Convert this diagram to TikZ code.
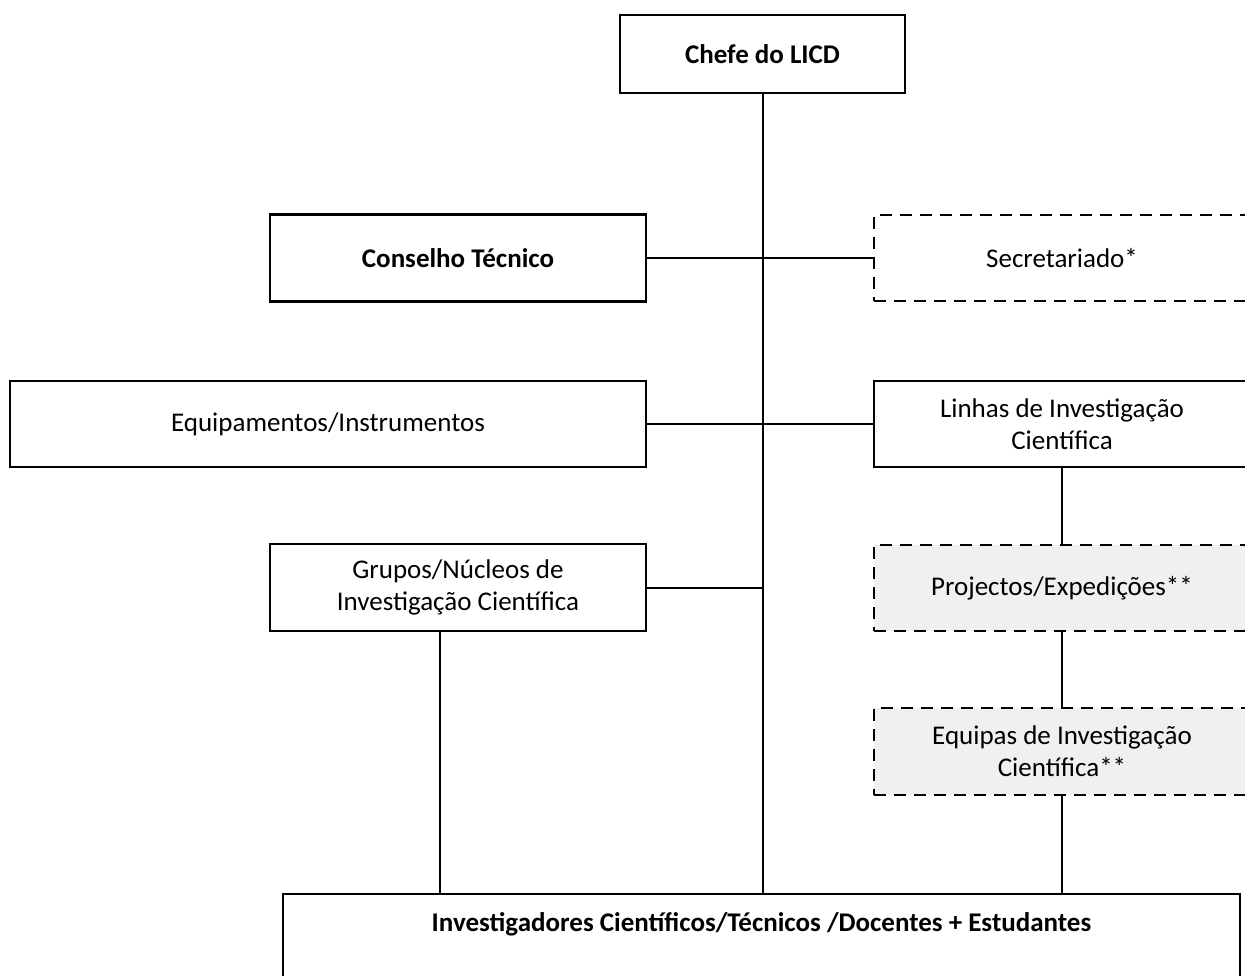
\documentclass[tikz,border=0pt]{standalone}
\usepackage{fontspec}
\setmainfont{Carlito}
\tikzset{
  unit/.style={draw, line width=2.2pt, align=center, inner sep=0pt},
  ghost/.style={unit, dash pattern=on 12pt off 8pt},
  shaded/.style={ghost, fill=black!6},
}
\begin{document}
\begin{tikzpicture}[x=1pt, y=-1pt, line width=2pt, font=\fontsize{27}{32}\selectfont]
\clip (0,0) rectangle (1245,976);
\fill[white] (0,0) rectangle (1245,976);

\node[unit, minimum width=285pt, minimum height=78pt] (chefe) at (762.5,54) {\bfseries Chefe do LICD};

\node[unit, minimum width=376pt, minimum height=87pt] (conselho) at (458,258) {\bfseries Conselho Técnico};
\node[ghost, minimum width=376pt, minimum height=86pt] (secret) at (1062,258) {Secretariado*};

\node[unit, minimum width=636pt, minimum height=86pt] (equip) at (328,424) {Equipamentos/Instrumentos};
\node[unit, minimum width=376pt, minimum height=86pt] (linhas) at (1062,424) {Linhas de Investigação\\Científica};

\node[unit, minimum width=376pt, minimum height=87pt] (grupos) at (458,587.5) {Grupos/Núcleos de\\Investigação Científica};
\node[shaded, minimum width=376pt, minimum height=86pt] (proj) at (1062,588) {Projectos/Expedições**};

\node[shaded, minimum width=376pt, minimum height=87pt] (equipas) at (1062,751.5) {Equipas de Investigação\\Científica**};

\node[unit, anchor=north, minimum width=957pt, text height=37pt, text depth=120pt] (inv) at (761.5,893)
  {\bfseries Investigadores Científicos/Técnicos /Docentes + Estudantes};

% tronco
\draw (chefe.south) -- (chefe.south |- inv.north);
\draw (conselho.east) -- (secret.west);
\draw (equip.east) -- (linhas.west);
\draw (grupos.east) -- (grupos.east -| chefe.south);
\draw ([xshift=-18pt]grupos.south) -- ([xshift=-18pt]grupos.south |- inv.north);

% coluna direita
\draw (linhas.south) -- (proj.north);
\draw (proj.south) -- (equipas.north);
\draw (equipas.south) -- (equipas.south |- inv.north);
\end{tikzpicture}
\end{document}
